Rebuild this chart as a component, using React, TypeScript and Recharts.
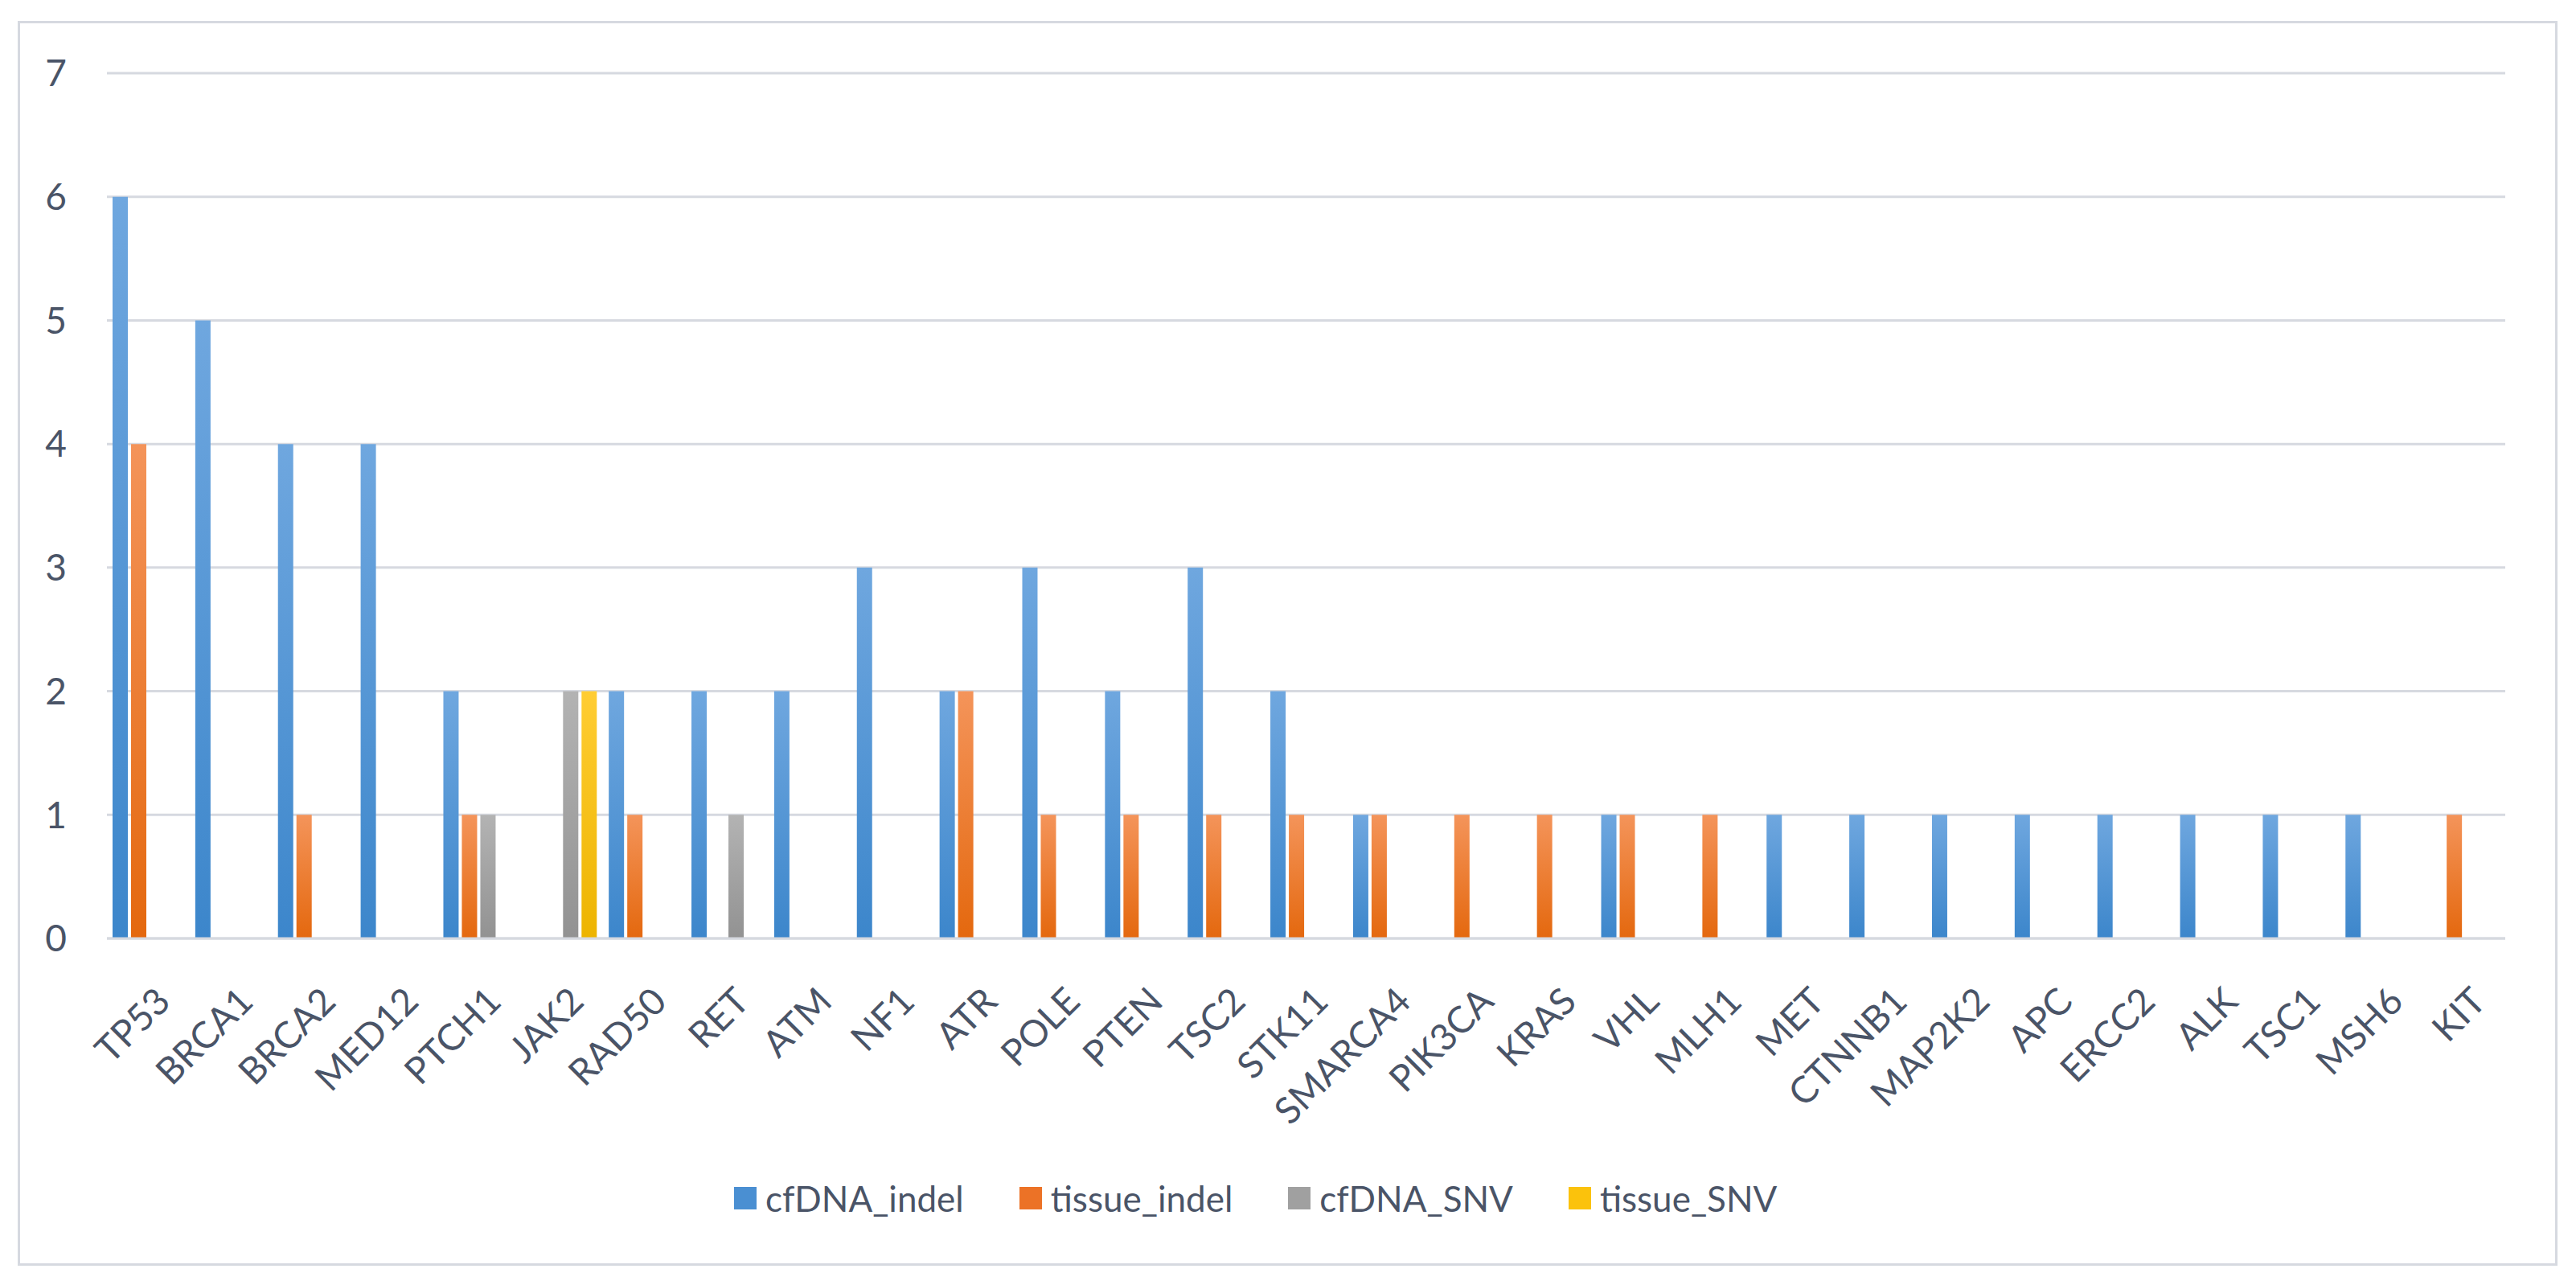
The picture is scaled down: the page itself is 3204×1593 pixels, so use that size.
import React from 'react';
import { BarChart, Bar, XAxis, YAxis, CartesianGrid, Legend } from 'recharts';

const genes = ['TP53', 'BRCA1', 'BRCA2', 'MED12', 'PTCH1', 'JAK2', 'RAD50', 'RET', 'ATM', 'NF1', 'ATR', 'POLE', 'PTEN', 'TSC2', 'STK11', 'SMARCA4', 'PIK3CA', 'KRAS', 'VHL', 'MLH1', 'MET', 'CTNNB1', 'MAP2K2', 'APC', 'ERCC2', 'ALK', 'TSC1', 'MSH6', 'KIT'];
const cfDNAIndel = [6, 5, 4, 4, 2, 0, 2, 2, 2, 3, 2, 3, 2, 3, 2, 1, 0, 0, 1, 0, 1, 1, 1, 1, 1, 1, 1, 1, 0];
const tissueIndel = [4, 0, 1, 0, 1, 0, 1, 0, 0, 0, 2, 1, 1, 1, 1, 1, 1, 1, 1, 1, 0, 0, 0, 0, 0, 0, 0, 0, 1];
const cfDNASNV = [0, 0, 0, 0, 1, 2, 0, 1, 0, 0, 0, 0, 0, 0, 0, 0, 0, 0, 0, 0, 0, 0, 0, 0, 0, 0, 0, 0, 0];
const tissueSNV = [0, 0, 0, 0, 0, 2, 0, 0, 0, 0, 0, 0, 0, 0, 0, 0, 0, 0, 0, 0, 0, 0, 0, 0, 0, 0, 0, 0, 0];
const yTicks = [0, 1, 2, 3, 4, 5, 6, 7];

const series = [
  { key: 'cfDNA_indel', top: '#6FA7DF', bottom: '#3C86CB', swatch: '#4A8FD2' },
  { key: 'tissue_indel', top: '#F4945A', bottom: '#E4680E', swatch: '#EC7226' },
  { key: 'cfDNA_SNV', top: '#B3B3B3', bottom: '#929292', swatch: '#A0A0A0' },
  { key: 'tissue_SNV', top: '#FFCD33', bottom: '#EDB400', swatch: '#FBC20C' },
];

const data = genes.map((g, i) => ({
  gene: g,
  cfDNA_indel: cfDNAIndel[i],
  tissue_indel: tissueIndel[i],
  cfDNA_SNV: cfDNASNV[i],
  tissue_SNV: tissueSNV[i],
}));

const TEXT = '#4A5467';
const GRID = '#D6D9E0';
const FONT = 46;
const LEGEND_FONT = 44;

const XTick = (props: any) => {
  const { x, y, payload } = props;
  const ax = x + 30;
  const ay = y + 81;
  return (
    <text x={ax} y={ay} transform={`rotate(-45, ${ax}, ${ay})`} textAnchor="end" fill={TEXT} fontSize={FONT} fontFamily="Lato">
      {payload.value}
    </text>
  );
};

const LegendContent = (props: any) => {
  const payload = [...(props.payload || [])];
  const idx = (p: any) => {
    const k = series.findIndex((d) => d.key === p.dataKey || d.key === p.value);
    return k < 0 ? 99 : k;
  };
  payload.sort((a: any, b: any) => idx(a) - idx(b));
  return (
    <div style={{ display: 'flex', alignItems: 'center', height: 50, fontFamily: 'Lato', fontSize: LEGEND_FONT, color: TEXT, whiteSpace: 'nowrap' }}>
      {payload.map((p: any, i: number) => {
        const s = series[idx(p)];
        return (
          <div key={i} style={{ display: 'flex', alignItems: 'center', marginRight: 69 }}>
            <div style={{ width: 28, height: 28, background: s ? s.swatch : p.color, marginRight: 11 }} />
            <span style={{ lineHeight: '50px' }}>{p.value}</span>
          </div>
        );
      })}
    </div>
  );
};

export default function App() {
  return (
    <div style={{ position: 'relative', width: 3188, height: 1577, fontFamily: 'Lato', background: '#fff' }}>
      <div style={{ position: 'absolute', left: 14, top: 18, width: 3159, height: 1548, border: `3px solid ${GRID}`, boxSizing: 'border-box' }} />
      <BarChart
        width={3188}
        height={1577}
        data={data}
        margin={{ top: 83, right: 80, left: 0, bottom: 70 }}
        barSize={19}
        barGap={4}
        style={{ position: 'absolute', left: 0, top: 0 }}
      >
        <defs>
          {series.map((s) => (
            <linearGradient key={s.key} id={`grad-${s.key}`} x1="0" y1="0" x2="0" y2="1">
              <stop offset="0%" stopColor={s.top} />
              <stop offset="100%" stopColor={s.bottom} />
            </linearGradient>
          ))}
        </defs>
        <CartesianGrid vertical={false} stroke={GRID} strokeWidth={3} />
        <XAxis
          dataKey="gene"
          interval={0}
          height={298}
          tickSize={0}
          tickMargin={0}
          tickLine={false}
          axisLine={{ stroke: GRID, strokeWidth: 3 }}
          tick={<XTick />}
        />
        <YAxis
          width={125}
          domain={[0, 7]}
          ticks={yTicks}
          tickSize={0}
          tickMargin={50}
          tickLine={false}
          axisLine={false}
          tick={{ fill: TEXT, fontSize: FONT, fontFamily: 'Lato' }}
          interval={0}
        />
        <Legend
          verticalAlign="bottom"
          content={<LegendContent />}
          wrapperStyle={{ left: 905, width: 1700, height: 50 }}
        />
        {series.map((s) => (
          <Bar key={s.key} dataKey={s.key} name={s.key} fill={`url(#grad-${s.key})`} isAnimationActive={false} />
        ))}
      </BarChart>
    </div>
  );
}
